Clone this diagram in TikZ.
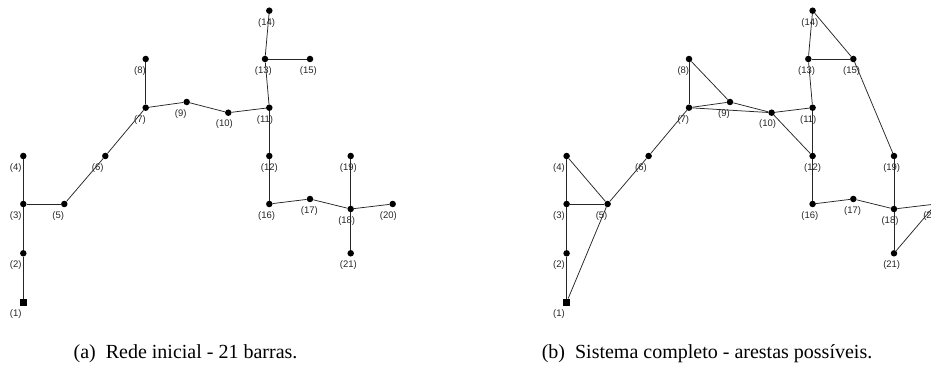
\documentclass[tikz,border=0pt]{standalone}
\usepackage{fontspec}
\setmainfont{Liberation Serif}
\newfontfamily\lblfont{Liberation Sans}
\begin{document}
\begin{tikzpicture}[x=1pt,y=-1pt,
  bus/.style={circle,fill=black,inner sep=0pt,minimum size=6.5pt},
  src/.style={rectangle,fill=black,inner sep=0pt,minimum size=7pt},
  lbl/.style={font=\lblfont\fontsize{9.5}{9.5}\selectfont,text=black!85,inner sep=0pt},
  edge/.style={draw=black!85,line width=0.75pt},
  captxt/.style={font=\fontsize{20}{20}\selectfont,anchor=base,inner sep=0pt}]
\useasboundingbox (0,0) rectangle (931,379);
\clip (0,0) rectangle (931,379);
\foreach \p/\ox in {a/0,b/543.3}{
  \begin{scope}[xshift=\ox pt]
    \node[src] (\p1) at (23.3,302.3) {};
    \foreach \n/\x/\y in {2/23.3/253.3,3/23.3/204,4/23.3/156,5/64.3/204,6/105.3/156,
      7/145.7/107.7,8/145.7/59,9/186.7/102,10/228.3/112.7,11/269.3/107.7,12/269.3/156,
      13/265/59,14/269.3/10.7,15/310/59,16/269.3/204,17/310/199,18/350.7/209,
      19/350.7/156,20/392.7/204,21/350.7/253.3}{
      \node[bus] (\p\n) at (\x,\y) {};
    }
    \foreach \n/\x/\y in {1/15.7/314.3,2/15.7/265.3,3/15.7/216,4/15.7/168,5/58.3/216,
      6/97.7/168,7/140/119.7,8/140/71,9/180.7/114,10/224.3/123.7,11/265/119.7,
      12/269.3/168,13/263.3/71,14/266.6/22.7,15/308.3/71,16/266.6/216,17/309.3/211,
      18/346.7/221,19/348.4/168,20/388.4/216,21/348.4/265.3}{
      \node[lbl] (\p l\n) at (\x,\y) {(\n)};
    }
    \foreach \u/\v in {1/2,2/3,3/4,3/5,5/6,6/7,7/8,7/9,9/10,10/11,11/12,11/13,
      13/14,13/15,12/16,16/17,17/18,18/19,18/20,18/21}{
      \draw[edge] (\p\u) -- (\p\v);
    }
  \end{scope}
}
\foreach \u/\v in {4/5,1/5,8/9,7/10,10/12,14/15,15/19,20/21}{
  \draw[edge] (b\u) -- (b\v);
}
\node[captxt] (capa) at (185.5,358) {(a)\enspace Rede inicial - 21 barras.};
\node[captxt] (capb) at (707,358) {(b)\enspace Sistema completo - arestas possíveis.};
\end{tikzpicture}
\end{document}
